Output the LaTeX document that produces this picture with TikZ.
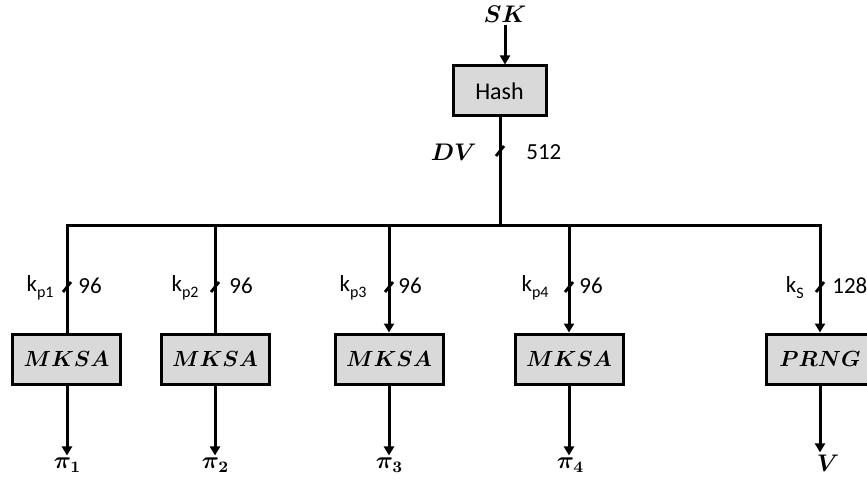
\documentclass[tikz,border=0pt]{standalone}
\usepackage{bm}
\usepackage{fontspec}
\setmainfont{Carlito}
\usetikzlibrary{arrows.meta}
\definecolor{boxgray}{HTML}{D9D9D9}
\newcommand\lsub[1]{\raisebox{-0.55ex}{\footnotesize #1}}
\begin{document}
\begin{tikzpicture}[x=0.5pt,y=-0.5pt,
  line/.style={line width=1.5pt},
  arr/.style={line width=1.5pt,-{Triangle[length=4.5pt,width=5pt]}},
  blk/.style={draw,line width=1.5pt,fill=boxgray,minimum width=54pt,minimum height=25pt,inner sep=0pt,font=\fontsize{10.5}{12}\selectfont},
  lbl/.style={inner sep=1pt,font=\fontsize{11.5}{14}\selectfont},
  mlbl/.style={inner sep=1pt,font=\fontsize{12}{14}\selectfont},
  tick/.style={line width=1.4pt}]
\useasboundingbox (0,0) rectangle (867,481);
% nodes
\node[mlbl] (SK) at (505,14) {$\bm{SK}$};
\node[blk,minimum width=46.5pt,font=\fontsize{12}{14}\selectfont] (H) at (499.5,91) {Hash};
\node[blk] (m1) at (66.5,359) {$\bm{MKSA}$};
\node[blk] (m2) at (215,359) {$\bm{MKSA}$};
\node[blk] (m3) at (389,359) {$\bm{MKSA}$};
\node[blk] (m4) at (569,359) {$\bm{MKSA}$};
\node[blk] (pr) at (820,359) {$\bm{PRNG}$};
\node[mlbl] (o1) at (67.5,465) {$\bm{\pi_1}$};
\node[mlbl] (o2) at (215.5,465) {$\bm{\pi_2}$};
\node[mlbl] (o3) at (389.5,465) {$\bm{\pi_3}$};
\node[mlbl] (o4) at (570.5,465) {$\bm{\pi_4}$};
\node[mlbl] (o5) at (828,463) {$\bm{V}$};
% bus coordinates
\coordinate (b0) at (500,225);
\coordinate (b1) at (67,225);
\coordinate (b2) at (215,225);
\coordinate (b3) at (389,225);
\coordinate (b4) at (569,225);
\coordinate (b5) at (820,225);
% connectors
\draw[arr] (SK) -- (SK |- H.north);
\draw[line] (H.south -| b0) -- (b0);
\draw[arr] (m1.north -| b1) |- (b5) -- (pr.north);
\draw[line] (b2) -- (m2.north);
\draw[arr] (b3) -- (m3.north);
\draw[arr] (b4) -- (m4.north);
\draw[arr] (m1.south -| b1) -- (b1 |- o1.north);
\draw[arr] (m2) -- (b2 |- o2.north);
\draw[arr] (m3) -- (b3 |- o3.north);
\draw[arr] (m4) -- (b4 |- o4.north);
\draw[arr] (pr) -- (b5 |- o5.north);
% bit-width ticks
\coordinate (t0) at (500,151);
\coordinate (t1) at (67,287);
\coordinate (t2) at (215,287);
\coordinate (t3) at (389,287);
\coordinate (t4) at (569,287);
\coordinate (t5) at (820,287);
\foreach \t in {t0,t1,t2,t3,t4,t5}
  \draw[tick] ([shift={(-4,5)}]\t) -- ([shift={(4,-5)}]\t);
% labels
\node[mlbl,anchor=east] (dv) at (479,152) {$\bm{DV}$};
\node[lbl,anchor=west] (n0) at (524,152) {512};
\node[lbl,anchor=east] (k1) at (56,288) {k\lsub{p1}};
\node[lbl,anchor=west] (n1) at (76,286) {96};
\node[lbl,anchor=east] (k2) at (201,288) {k\lsub{p2}};
\node[lbl,anchor=west] (n2) at (227,286) {96};
\node[lbl,anchor=east] (k3) at (369,288) {k\lsub{p3}};
\node[lbl,anchor=west] (n3) at (396,286) {96};
\node[lbl,anchor=east] (k4) at (551,288) {k\lsub{p4}};
\node[lbl,anchor=west] (n4) at (577,286) {96};
\node[lbl,anchor=east] (k5) at (806,288) {k\lsub{S}};
\node[lbl,anchor=west] (n5) at (830,286) {128};
\end{tikzpicture}
\end{document}
